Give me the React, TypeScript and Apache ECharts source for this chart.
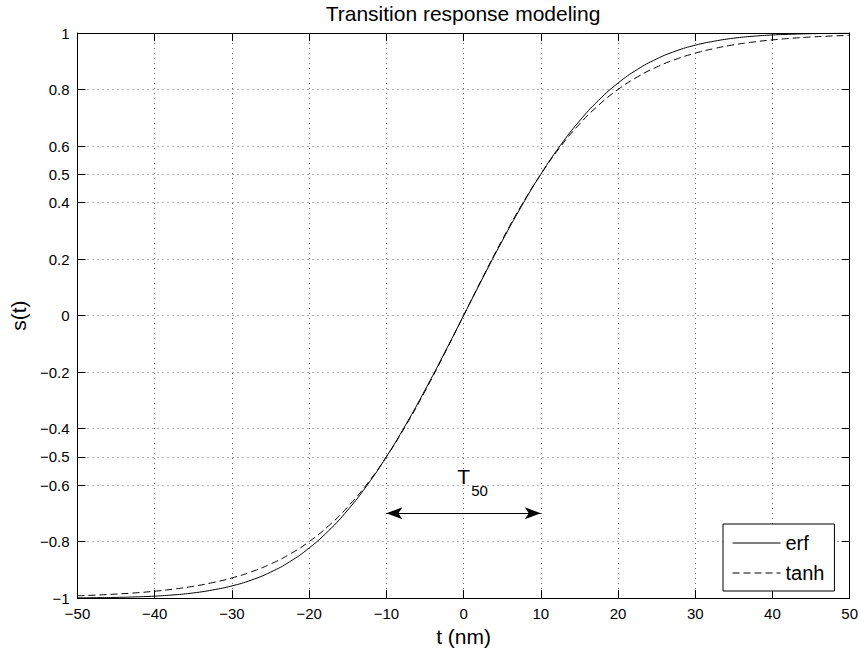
import React, { useEffect, useRef } from 'react';
import * as echarts from 'echarts';

const TITLE = 'Transition response modeling';
const X_NAME = 't (nm)';
const Y_NAME = 's(t)';

const T_NM = [
  -50, -47.5, -45, -42.5, -40, -37.5, -35, -32.5, -30, -27.5, -25, -22.5, -20, -17.5, -15, -12.5, -10, -7.5, -5, -2.5,
  0, 2.5, 5, 7.5, 10, 12.5, 15, 17.5, 20, 22.5, 25, 27.5, 30, 32.5, 35, 37.5, 40, 42.5, 45, 47.5, 50,
];

const ERF = [
  -0.9993, -0.9986, -0.9975, -0.9957, -0.993, -0.9885, -0.9817, -0.9712, -0.9568, -0.9363, -0.9082, -0.871, -0.8226,
  -0.7621, -0.6883, -0.6008, -0.5, -0.3869, -0.2639, -0.1338, 0, 0.1338, 0.2639, 0.3869, 0.5, 0.6008, 0.6883, 0.7621,
  0.8226, 0.871, 0.9082, 0.9363, 0.9568, 0.9712, 0.9817, 0.9885, 0.993, 0.9957, 0.9975, 0.9986, 0.9993,
];

const TANH = [
  -0.9918, -0.9892, -0.9858, -0.9814, -0.9756, -0.968, -0.9582, -0.9452, -0.9286, -0.9071, -0.8794, -0.8444, -0.8,
  -0.7449, -0.6772, -0.5958, -0.5, -0.3902, -0.268, -0.1364, 0, 0.1364, 0.268, 0.3902, 0.5, 0.5958, 0.6772, 0.7449,
  0.8, 0.8444, 0.8794, 0.9071, 0.9286, 0.9452, 0.9582, 0.968, 0.9756, 0.9814, 0.9858, 0.9892, 0.9918,
];

const X_MIN = -50;
const X_MAX = 50;
const X_STEP = 10;
const Y_MIN = -1;
const Y_MAX = 1;
const Y_STEP = 0.1;
const Y_TICKS = [-1, -0.8, -0.6, -0.5, -0.4, -0.2, 0, 0.2, 0.4, 0.5, 0.6, 0.8, 1];

const ARROW_FROM = -10;
const ARROW_TO = 10;
const ARROW_Y = -0.7;
const LABEL_POS = [0, -0.57];
const LABEL_MAIN = 'T';
const LABEL_SUB = '50';

const FONT = '"Liberation Sans", Arial, Helvetica, sans-serif';
const fmt = (v: number) => String(v).replace('-', '\u2212');
const yFmt = (v: any) => {
  const n = Number(v);
  const hit = Y_TICKS.find((t) => Math.abs(t - n) < 1e-6);
  return hit === undefined ? '' : fmt(hit);
};

export default function App() {
  const ref = useRef<HTMLDivElement>(null);
  useEffect(() => {
    document.body.style.margin = '0';
    const chart = echarts.init(ref.current!, null, { renderer: 'svg' });
    const black = '#000';
    const gridLine = { show: true, lineStyle: { color: '#666', width: 1, type: [1, 4] as any } };
    chart.setOption({
      animation: false,
      backgroundColor: '#fff',
      textStyle: { fontFamily: FONT, color: black },
      grid: { left: 74, top: 33, right: 9, bottom: 52, containLabel: false },
      graphic: [
        {
          type: 'text',
          x: 463,
          y: 13,
          style: {
            text: TITLE,
            fontSize: 21,
            fontFamily: FONT,
            fill: black,
            textAlign: 'center',
            textVerticalAlign: 'middle',
          },
        },
      ],
      legend: {
        data: ['erf', 'tanh'],
        orient: 'vertical',
        left: 723,
        top: 524,
        padding: [8, 10, 7, 9],
        itemGap: 8,
        itemWidth: 48,
        itemHeight: 14,
        backgroundColor: '#fff',
        borderColor: black,
        borderWidth: 1,
        borderRadius: 0,
        selectedMode: false,
        itemStyle: { opacity: 0 },
        lineStyle: { width: 1 },
        textStyle: { fontSize: 20, color: black, fontFamily: FONT, lineHeight: 22 },
      },
      xAxis: [
        {
          type: 'value',
          min: X_MIN,
          max: X_MAX,
          interval: X_STEP,
          position: 'bottom',
          name: X_NAME,
          nameLocation: 'middle',
          nameGap: 25,
          nameTextStyle: { fontSize: 21, color: black, fontFamily: FONT },
          axisLine: { show: true, onZero: false, lineStyle: { color: black, width: 1 } },
          axisTick: { show: true, inside: true, length: 8, lineStyle: { color: black } },
          axisLabel: { fontSize: 15, color: black, margin: 8, formatter: fmt, fontFamily: FONT },
          splitLine: gridLine,
        },
        {
          type: 'value',
          min: X_MIN,
          max: X_MAX,
          interval: X_STEP,
          position: 'top',
          axisLine: { show: true, onZero: false, lineStyle: { color: black, width: 1 } },
          axisTick: { show: true, inside: true, length: 8, lineStyle: { color: black } },
          axisLabel: { show: false },
          splitLine: { show: false },
        },
      ],
      yAxis: [
        {
          type: 'value',
          min: Y_MIN,
          max: Y_MAX,
          interval: Y_STEP,
          position: 'left',
          name: Y_NAME,
          nameLocation: 'middle',
          nameGap: 42,
          nameTextStyle: { fontSize: 21, color: black, fontFamily: FONT },
          axisLine: { show: true, onZero: false, lineStyle: { color: black, width: 1 } },
          axisTick: { show: true, inside: true, length: 8, lineStyle: { color: black }, customValues: Y_TICKS },
          axisLabel: { fontSize: 15, color: black, margin: 8, formatter: yFmt, fontFamily: FONT, hideOverlap: false },
          splitLine: gridLine,
        },
        {
          type: 'value',
          min: Y_MIN,
          max: Y_MAX,
          interval: Y_STEP,
          position: 'right',
          axisLine: { show: true, onZero: false, lineStyle: { color: black, width: 1 } },
          axisTick: { show: true, inside: true, length: 8, lineStyle: { color: black }, customValues: Y_TICKS },
          axisLabel: { show: false },
          splitLine: { show: false },
        },
      ],
      series: [
        {
          name: 'erf',
          type: 'line',
          data: T_NM.map((t, i) => [t, ERF[i]]),
          symbol: 'none',
          showSymbol: false,
          smooth: true,
          color: black,
          lineStyle: { color: black, width: 1, type: 'solid' },
          emphasis: { disabled: true },
          z: 3,
        },
        {
          name: 'tanh',
          type: 'line',
          data: T_NM.map((t, i) => [t, TANH[i]]),
          symbol: 'none',
          showSymbol: false,
          smooth: true,
          color: black,
          lineStyle: { color: black, width: 1, type: [7, 4] },
          emphasis: { disabled: true },
          z: 3,
        },
        {
          name: 'annotation',
          type: 'line',
          data: [],
          symbol: 'none',
          markLine: {
            silent: true,
            symbol: ['arrow', 'arrow'],
            symbolSize: [9, 16],
            label: { show: false },
            emphasis: { disabled: true },
            lineStyle: { color: black, width: 1, type: 'solid' },
            data: [[{ coord: [ARROW_FROM, ARROW_Y] }, { coord: [ARROW_TO, ARROW_Y] }]],
          },
          markPoint: {
            silent: true,
            symbol: 'circle',
            symbolSize: 0,
            data: [
              {
                coord: LABEL_POS,
                label: {
                  show: true,
                  position: 'inside',
                  offset: [0, 0],
                  formatter: LABEL_MAIN,
                  fontSize: 21,
                  color: black,
                  fontFamily: FONT,
                },
              },
              {
                coord: LABEL_POS,
                label: {
                  show: true,
                  position: 'inside',
                  offset: [16, 14],
                  formatter: LABEL_SUB,
                  fontSize: 15,
                  color: black,
                  fontFamily: FONT,
                },
              },
            ],
          },
        },
      ],
    });
    return () => chart.dispose();
  }, []);
  return <div ref={ref} style={{ width: 861, height: 652 }} />;
}
